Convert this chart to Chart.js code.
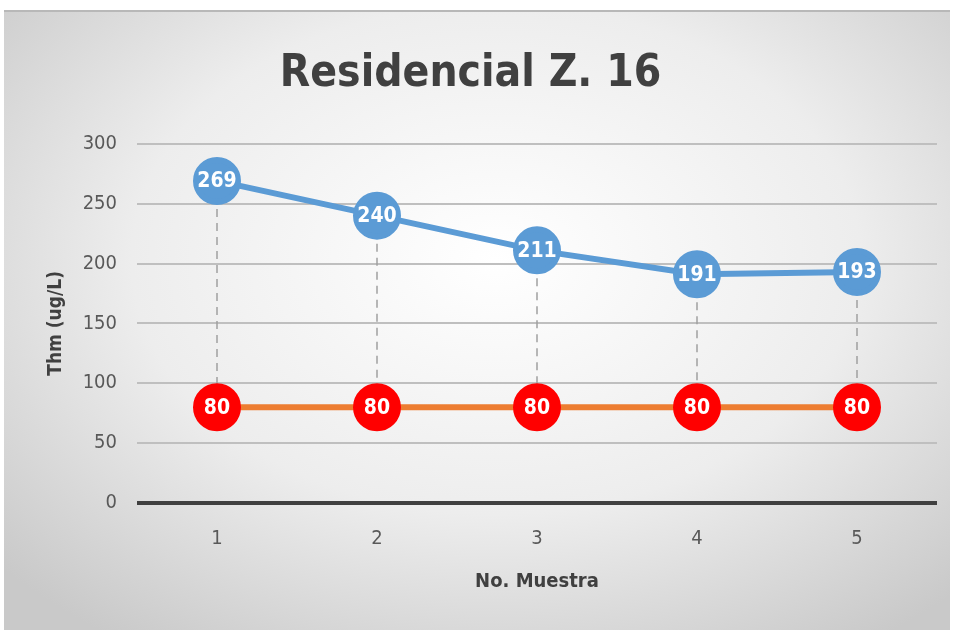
<!DOCTYPE html>
<html>
<head>
<meta charset="utf-8">
<script src="https://cdn.jsdelivr.net/npm/chart.js@4.4.0/dist/chart.umd.min.js"></script>
<style>
  html, body { margin: 0; padding: 0; background: #ffffff; }
  #wrap {
    position: absolute; left: 4px; top: 10px; width: 946px; height: 618px;
    border-top: 2px solid #b8b8b8;
    background: radial-gradient(ellipse 70% 75% at 52% 40%, #ffffff 0%, #ededed 55%, #c9c9c9 100%);
  }
</style>
</head>
<body>
<div id="wrap"><canvas id="chart" width="946" height="616"></canvas></div>
<script>
const muestras = ['1', '2', '3', '4', '5'];
const thmValues = [269, 240, 211, 191, 193];
const limite = [80, 80, 80, 80, 80];
const yTicks = [0, 50, 100, 150, 200, 250, 300];

const fontFam = '"Liberation Sans Narrow", "DejaVu Sans Condensed", "Open Sans", sans-serif';

// dashed drop lines between the two series
const dropLines = {
  id: 'dropLines',
  beforeDatasetsDraw(chart) {
    const top = chart.getDatasetMeta(0).data;
    const bottom = chart.getDatasetMeta(1).data;
    const ctx = chart.ctx;
    ctx.save();
    ctx.strokeStyle = '#a0a0a0';
    ctx.lineWidth = 1.5;
    ctx.setLineDash([8, 6]);
    top.forEach((p, i) => {
      ctx.beginPath();
      ctx.moveTo(p.x, p.y);
      ctx.lineTo(bottom[i].x, bottom[i].y);
      ctx.stroke();
    });
    ctx.restore();
  }
};

// white value labels inside the markers
const valueLabels = {
  id: 'valueLabels',
  afterDatasetsDraw(chart) {
    const ctx = chart.ctx;
    ctx.save();
    ctx.fillStyle = '#ffffff';
    ctx.font = 'bold 21px ' + fontFam;
    ctx.textAlign = 'center';
    ctx.textBaseline = 'middle';
    chart.data.datasets.forEach((ds, di) => {
      chart.getDatasetMeta(di).data.forEach((p, i) => {
        ctx.fillText(String(ds.data[i]), p.x, p.y + 1);
      });
    });
    ctx.restore();
  }
};

new Chart(document.getElementById('chart'), {
  type: 'line',
  data: {
    labels: muestras,
    datasets: [
      {
        label: 'Thm',
        data: thmValues,
        borderColor: '#5b9bd5',
        backgroundColor: '#5b9bd5',
        borderWidth: 6,
        pointRadius: 21,
        pointHoverRadius: 21,
        pointBackgroundColor: '#5b9bd5',
        pointBorderColor: '#5b9bd5',
        tension: 0
      },
      {
        label: 'Límite',
        data: limite,
        borderColor: '#ed7d31',
        backgroundColor: '#ff0000',
        borderWidth: 6,
        pointRadius: 21,
        pointHoverRadius: 21,
        pointBackgroundColor: '#ff0000',
        pointBorderColor: '#ff0000',
        tension: 0
      }
    ]
  },
  options: {
    responsive: false,
    animation: false,
    layout: { autoPadding: false, padding: { left: 0, right: 13, top: 0, bottom: 0 } },
    plugins: {
      legend: { display: false },
      tooltip: { enabled: false },
      title: {
        display: true,
        text: 'Residencial Z. 16',
        color: '#404040',
        font: { family: fontFam, size: 44, weight: 'bold' },
        padding: { top: 36, bottom: 43 }
      }
    },
    scales: {
      x: {
        offset: true,
        grid: { display: false, drawTicks: false },
        border: { display: false },
        ticks: { color: '#595959', font: { family: fontFam, size: 20 }, padding: 24 },
        title: {
          display: true,
          text: 'No. Muestra',
          color: '#404040',
          font: { family: fontFam, size: 20, weight: 'bold' },
          padding: { top: 4, bottom: 34 }
        },
        afterFit(scale) { scale.height = 125; }
      },
      y: {
        min: 0,
        max: 300,
        afterBuildTicks(scale) { scale.ticks = yTicks.map(v => ({ value: v })); },
        grid: {
          drawTicks: false,
          color: ctx => ctx.tick && ctx.tick.value === 0 ? '#404040' : '#bfbfbf',
          lineWidth: ctx => ctx.tick && ctx.tick.value === 0 ? 4 : 2
        },
        border: { display: false },
        ticks: { color: '#595959', font: { family: fontFam, size: 20 }, padding: 20 },
        title: {
          display: true,
          text: 'Thm (ug/L)',
          color: '#404040',
          font: { family: fontFam, size: 19, weight: 'bold' },
          padding: { top: 41, bottom: 0 }
        },
        afterFit(scale) { scale.width = 133; }
      }
    }
  },
  plugins: [dropLines, valueLabels]
});
</script>
</body>
</html>
